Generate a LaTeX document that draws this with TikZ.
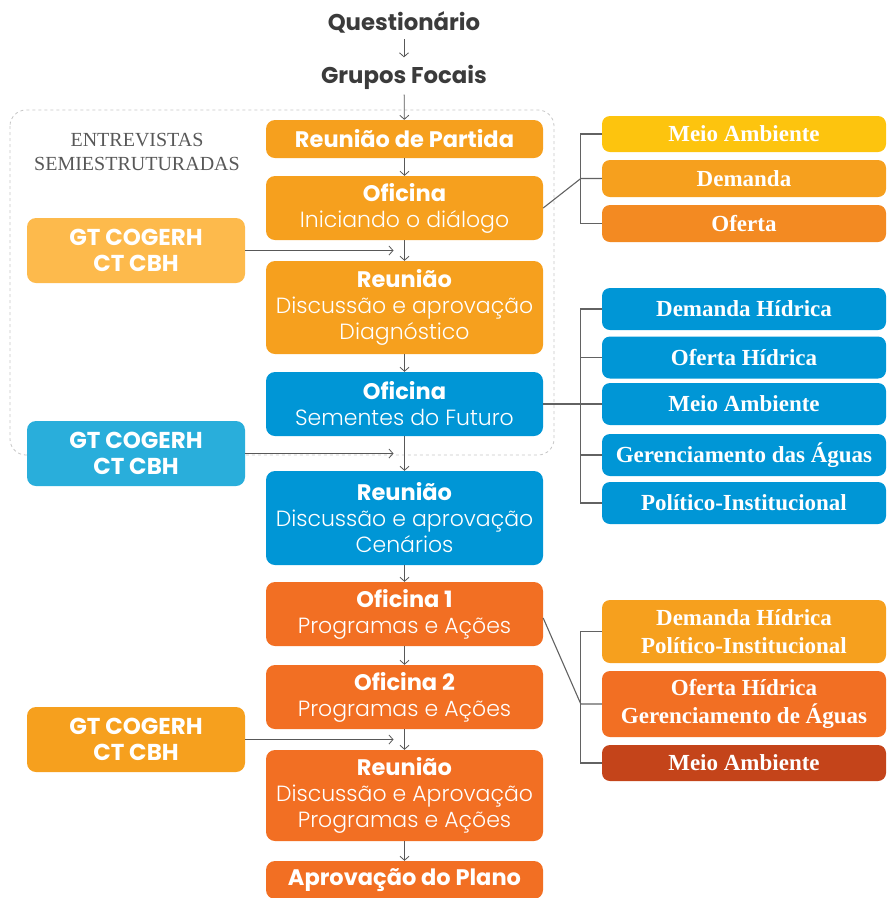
\documentclass[tikz,border=0pt]{standalone}
\usepackage{fontspec}
\setmainfont{Liberation Serif}
\newfontfamily\popfont{Poppins}
\newfontfamily\poplight{Poppins Light}
\usetikzlibrary{arrows.meta,positioning,calc}

\definecolor{textdark}{RGB}{59,59,59}
\definecolor{laranja}{RGB}{246,160,30}
\definecolor{laranjaclaro}{RGB}{253,186,76}
\definecolor{azul}{RGB}{0,150,214}
\definecolor{azulclaro}{RGB}{41,174,219}
\definecolor{vermelhao}{RGB}{242,111,35}
\definecolor{amarelo}{RGB}{253,196,14}
\definecolor{laranjaforte}{RGB}{243,138,34}
\definecolor{tijolo}{RGB}{196,68,26}

\newcommand{\ttl}[1]{{\popfont\bfseries\fontsize{22.5}{26}\selectfont #1}}
\newcommand{\sub}[1]{{\poplight #1}}

\tikzset{
  stage/.style={rounded corners=9pt, fill=#1, text=white, minimum width=277pt,
    inner sep=0pt, align=center, font=\fontsize{22}{26}\selectfont},
  gtbox/.style={rounded corners=9pt, fill=#1, text=white, minimum width=218pt,
    minimum height=65pt, inner sep=0pt, align=center,
    font=\popfont\bfseries\fontsize{23}{26}\selectfont},
  topic/.style={rounded corners=8pt, fill=#1, text=white, minimum width=284pt,
    inner sep=0pt, align=center, font=\bfseries\fontsize{23}{28}\selectfont},
  plain/.style={text=textdark, font=\popfont\bfseries\fontsize{22.8}{26}\selectfont},
  flow/.style={draw=textdark!85, line width=0.8pt, -{Straight Barb[length=4pt,width=9pt]}},
  link/.style={draw=textdark!80, line width=1.1pt}
}

\begin{document}
\begin{tikzpicture}[x=1pt,y=-1pt]
\useasboundingbox (0,0) rectangle (887,898);

% moldura das entrevistas
\draw[dashed, gray!45, line width=0.8pt, rounded corners=16pt] (10,110) rectangle (554,455);
\node[text=textdark!85, align=center, font=\fontsize{20}{24}\selectfont] (entrev) at (137,152)
  {ENTREVISTAS\\SEMIESTRUTURADAS};

% coluna central
\node[plain] (quest) at (404,22) {Questionário};
\node[plain] (grupos) at (404,77) {Grupos Focais};
\node[stage=laranja, minimum height=38pt] (partida) at (404.5,139) {\ttl{Reunião de Partida}};
\node[stage=laranja, minimum height=64pt] (oficinaA) at (404.5,208) {\ttl{Oficina}\\\sub{Iniciando o diálogo}};
\node[stage=laranja, minimum height=93pt] (diagn) at (404.5,307.5) {\ttl{Reunião}\\\sub{Discussão e aprovação}\\\sub{Diagnóstico}};
\node[stage=azul, minimum height=64pt] (sementes) at (404.5,404) {\ttl{Oficina}\\\sub{Sementes do Futuro}};
\node[stage=azul, minimum height=94pt] (cenarios) at (404.5,518) {\ttl{Reunião}\\\sub{Discussão e aprovação}\\\sub{Cenários}};
\node[stage=vermelhao, minimum height=64pt] (oficina1) at (404.5,614) {\ttl{Oficina 1}\\\sub{Programas e Ações}};
\node[stage=vermelhao, minimum height=64pt] (oficina2) at (404.5,697) {\ttl{Oficina 2}\\\sub{Programas e Ações}};
\node[stage=vermelhao, minimum height=91pt] (progr) at (404.5,795.5) {\ttl{Reunião}\\\sub{Discussão e Aprovação}\\\sub{Programas e Ações}};
\node[stage=vermelhao, minimum height=38pt] (plano) at (404.5,880) {\ttl{Aprovação do Plano}};

% grupos de trabalho
\node[gtbox=laranjaclaro] (gtA) at (136,250.5) {GT COGERH\\CT CBH};
\node[gtbox=azulclaro] (gtB) at (136,453.5) {GT COGERH\\CT CBH};
\node[gtbox=laranja] (gtC) at (136,739.5) {GT COGERH\\CT CBH};

% temas
\node[topic=amarelo, minimum height=36pt] (meioA) at (744,134) {Meio Ambiente};
\node[topic=laranja, minimum height=37pt] (demanda) at (744,178.5) {Demanda};
\node[topic=laranjaforte, minimum height=37pt] (oferta) at (744,223.5) {Oferta};

\node[topic=azul, minimum height=42pt] (demH) at (744,309) {Demanda Hídrica};
\node[topic=azul, minimum height=42pt] (ofeH) at (744,357.5) {Oferta Hídrica};
\node[topic=azul, minimum height=42pt] (meioB) at (744,404) {Meio Ambiente};
\node[topic=azul, minimum height=42pt] (geren) at (744,455) {Gerenciamento das Águas};
\node[topic=azul, minimum height=42pt] (polit) at (744,503) {Político-Institucional};

\node[topic=laranja, minimum height=63pt] (demPol) at (744,631.5) {Demanda Hídrica\\Político-Institucional};
\node[topic=vermelhao, minimum height=66pt] (ofeGer) at (744,704) {Oferta Hídrica\\Gerenciamento de Águas};
\node[topic=tijolo, minimum height=36pt] (meioC) at (744,763) {Meio Ambiente};

% setas do fluxo
\draw[flow, shorten <=3pt, shorten >=4pt] (quest) -- (grupos);
\draw[flow, shorten <=2pt] (grupos) -- (partida);
\draw[flow] (partida) -- (oficinaA);
\draw[flow] (oficinaA) -- (diagn);
\draw[flow] (diagn) -- (sementes);
\draw[flow] (sementes) -- (cenarios);
\draw[flow] (cenarios) -- (oficina1);
\draw[flow] (oficina1) -- (oficina2);
\draw[flow] (oficina2) -- (progr);
\draw[flow] (progr) -- (plano);

\draw[flow] (gtA.east) -- ([xshift=-11pt]gtA.east -| partida.south);
\draw[flow] (gtB.east) -- ([xshift=-11pt]gtB.east -| partida.south);
\draw[flow] (gtC.east) -- ([xshift=-11pt]gtC.east -| partida.south);

% chaves dos temas
\draw[link] (meioA.west) -- ++(-21,0) |- (oferta.west);
\draw[link] (demanda.west) -- ++(-21,0) -- (oficinaA.east);

\draw[link] (demH.west) -- ++(-21,0) |- (polit.west);
\draw[link] (ofeH.west) -- ++(-21,0);
\draw[link] (geren.west) -- ++(-21,0);
\draw[link] (sementes.east) -- (meioB.west);

\draw[link] (demPol.west) -- ++(-21,0) |- (meioC.west);
\draw[link] (ofeGer.west) -- ++(-21,0) -- ([yshift=-4pt]oficina1.east);
\end{tikzpicture}
\end{document}
